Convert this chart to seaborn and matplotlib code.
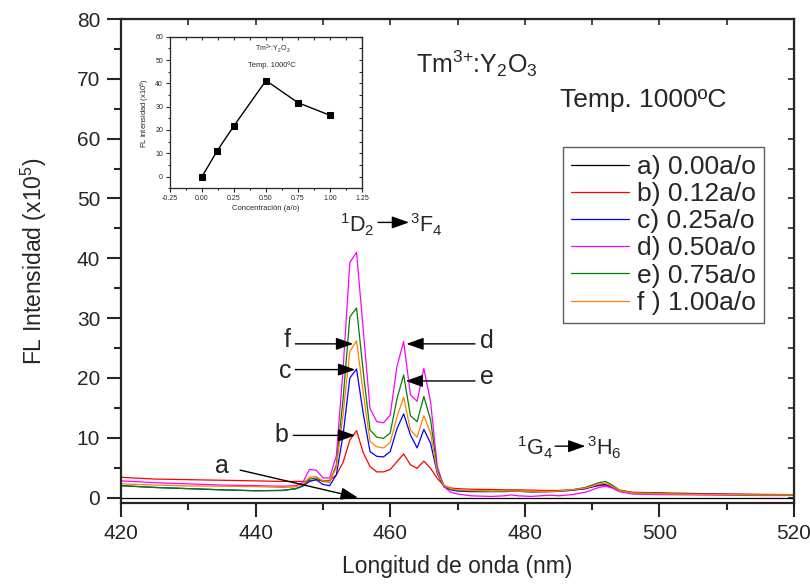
import pandas as pd
import matplotlib.pyplot as plt
import seaborn as sns
from matplotlib.ticker import MultipleLocator, FormatStrFormatter

# longitudes de onda (nm) donde se leyeron los espectros
nm = [420, 425, 430, 435, 440, 444, 446, 447, 448, 449, 450, 451, 452, 453, 454,
      455, 456, 457, 458, 459, 460, 461, 462, 463, 464, 465, 466, 467, 468, 469,
      470, 472, 475, 477, 478, 479, 481, 483, 484, 485, 487, 489, 490, 491, 492,
      493, 494, 496, 500, 505, 510, 515, 520]

nm_a = [420, 520]
fl_a = [0.0, 0.0]

fl_b = [3.4, 3.1, 3.0, 2.9, 2.8, 2.7, 2.7, 2.7, 2.8, 3.0, 2.8, 2.9, 3.8, 5.9, 9.6,
        11.2, 7.5, 5.2, 4.3, 4.3, 4.7, 6.0, 7.3, 5.5, 4.9, 6.1, 4.9, 3.2, 2.0, 1.6,
        1.5, 1.4, 1.35, 1.3, 1.3, 1.3, 1.25, 1.2, 1.2, 1.2, 1.3, 1.5, 1.8, 2.0, 2.1,
        1.7, 1.2, 0.9, 0.8, 0.7, 0.6, 0.55, 0.5]

fl_c = [2.0, 1.7, 1.5, 1.3, 1.15, 1.2, 1.5, 1.9, 2.7, 3.0, 2.2, 2.0, 3.8, 10.5, 20.0,
        21.5, 14.0, 7.7, 6.9, 6.8, 7.7, 11.5, 14.0, 10.5, 8.3, 11.4, 9.1, 4.0, 1.8, 1.3,
        1.1, 1.0, 1.0, 1.0, 1.05, 1.05, 0.95, 1.0, 1.0, 1.05, 1.2, 1.5, 1.8, 2.1, 2.2,
        1.8, 1.2, 0.8, 0.7, 0.6, 0.55, 0.5, 0.5]

fl_d = [2.8, 2.5, 2.3, 2.1, 2.0, 1.9, 2.0, 2.5, 4.7, 4.6, 3.3, 3.3, 7.0, 21.5, 39.3,
        41.0, 28.0, 14.9, 12.7, 12.5, 13.8, 21.9, 26.1, 17.2, 16.1, 21.6, 16.0, 5.2, 1.8, 0.9,
        0.6, 0.3, 0.2, 0.3, 0.45, 0.3, 0.2, 0.35, 0.4, 0.3, 0.5, 0.9, 1.3, 1.7, 1.9,
        1.6, 1.0, 0.6, 0.5, 0.45, 0.4, 0.35, 0.35]

fl_e = [2.0, 1.7, 1.5, 1.3, 1.15, 1.2, 1.5, 2.0, 3.1, 3.3, 2.7, 2.6, 5.5, 16.5, 30.2,
        31.7, 21.0, 11.3, 10.1, 9.9, 10.8, 16.5, 20.5, 13.7, 12.7, 16.9, 13.0, 4.5, 2.0, 1.4,
        1.2, 1.1, 1.05, 1.1, 1.1, 1.05, 1.0, 1.0, 1.05, 1.1, 1.3, 1.7, 2.1, 2.5, 2.7,
        2.1, 1.3, 0.85, 0.7, 0.6, 0.5, 0.45, 0.5]

fl_f = [2.3, 2.1, 1.95, 1.9, 1.85, 1.7, 1.8, 2.2, 3.4, 3.5, 2.8, 2.7, 5.0, 14.0, 24.4,
        26.2, 17.5, 9.4, 8.5, 8.3, 9.2, 13.5, 16.8, 11.3, 10.1, 13.7, 10.8, 4.2, 2.0, 1.5,
        1.3, 1.2, 1.1, 1.1, 1.1, 1.1, 1.05, 1.05, 1.05, 1.1, 1.3, 1.6, 1.9, 2.3, 2.4,
        1.9, 1.2, 0.8, 0.65, 0.55, 0.5, 0.45, 0.45]

etiquetas = ["a) 0.00a/o", "b) 0.12a/o", "c) 0.25a/o", "d) 0.50a/o", "e) 0.75a/o", "f ) 1.00a/o"]
colores = ["#000000", "#ff0000", "#0000ff", "#ff00ff", "#008000", "#ff8000"]

# inserto: intensidad del pico vs concentracion
conc = [0.00, 0.12, 0.25, 0.50, 0.75, 1.00]
pico = [0.0, 11.2, 21.8, 41.2, 31.7, 26.3]

sns.set_style("ticks")
plt.rcParams["font.family"] = ["Liberation Sans", "DejaVu Sans"]
plt.rcParams["mathtext.fontset"] = "custom"
plt.rcParams["mathtext.rm"] = "Liberation Sans"
plt.rcParams["mathtext.it"] = "Liberation Sans:italic"
plt.rcParams["mathtext.default"] = "regular"

frames = [pd.DataFrame({"nm": nm_a, "fl": fl_a, "serie": etiquetas[0]})]
for lab, ys in zip(etiquetas[1:], [fl_b, fl_c, fl_d, fl_e, fl_f]):
    frames.append(pd.DataFrame({"nm": nm, "fl": ys, "serie": lab}))
df = pd.concat(frames, ignore_index=True)

fig = plt.figure(figsize=(8.1, 5.85), dpi=100)
ax = fig.add_axes([121 / 810, 1 - 503 / 585, 673 / 810, 484 / 585])

sns.lineplot(data=df, x="nm", y="fl", hue="serie", hue_order=etiquetas,
             palette=dict(zip(etiquetas, colores)), sort=False, estimator=None,
             linewidth=0.9, ax=ax)

ax.set_xlim(420, 520)
ax.set_ylim(-0.9, 80)
ax.xaxis.set_major_locator(MultipleLocator(20))
ax.xaxis.set_minor_locator(MultipleLocator(10))
ax.yaxis.set_major_locator(MultipleLocator(10))
ax.yaxis.set_minor_locator(MultipleLocator(5))
ax.tick_params(which="major", direction="out", length=10, width=1.5, labelsize=15, pad=5)
ax.tick_params(which="minor", direction="out", length=5, width=1.5)
for s in ax.spines.values():
    s.set_linewidth(1.6)

top = ax.secondary_xaxis("top")
top.xaxis.set_major_locator(MultipleLocator(10))
top.tick_params(direction="in", length=4, width=1.2, labeltop=False)
right = ax.secondary_yaxis("right")
right.yaxis.set_major_locator(MultipleLocator(5))
right.tick_params(direction="in", length=4, width=1.2, labelright=False)

ax.set_xlabel("Longitud de onda (nm)", fontsize=16.5)
ax.set_ylabel("FL Intensidad (x10$^5$)", fontsize=16.5)
ax.xaxis.set_label_coords(0.5, -0.108)
ax.yaxis.set_label_coords(-0.107, 0.5)

sns.move_legend(ax, "upper left", bbox_to_anchor=(0.657, 0.7355), title=None,
                frameon=True, fontsize=19, handlelength=2.2, handletextpad=0.3,
                borderpad=0.3, labelspacing=0.12, borderaxespad=0, fancybox=False,
                edgecolor="#333333")
ax.get_legend().get_frame().set_linewidth(1.0)

flecha = dict(arrowstyle="-|>,head_length=0.7,head_width=0.25", color="black",
              lw=1.0, mutation_scale=15, shrinkA=0, shrinkB=0)

# etiquetas de las curvas
letras = [("a", 435.0, 5.3, (437.7, 4.6), (455.2, 0.0)),
          ("b", 443.9, 10.4, (445.6, 10.4), (454.8, 10.4)),
          ("c", 444.4, 21.1, (445.9, 21.4), (454.8, 21.4)),
          ("f", 444.7, 26.4, (445.9, 25.7), (454.5, 25.7)),
          ("d", 474.4, 26.1, (472.6, 25.7), (462.4, 25.7)),
          ("e", 474.4, 20.2, (472.6, 19.5), (462.3, 19.5))]
for txt, tx, ty, cola, punta in letras:
    ax.text(tx, ty, txt, fontsize=18, ha="center", va="center")
    ax.annotate("", xy=punta, xytext=cola, arrowprops=flecha)

# transiciones
ax.text(457.7, 45.6, "$^1$D$_2$", fontsize=15.5, ha="right", va="center")
ax.annotate("", xy=(462.8, 46.0), xytext=(458.2, 46.0), arrowprops=flecha)
ax.text(462.9, 45.6, "$^3$F$_4$", fontsize=15.5, ha="left", va="center")
ax.text(484.2, 8.3, "$^1$G$_4$", fontsize=15.5, ha="right", va="center")
ax.annotate("", xy=(489.0, 8.6), xytext=(484.5, 8.6), arrowprops=flecha)
ax.text(489.2, 8.3, "$^3$H$_6$", fontsize=15.5, ha="left", va="center")

ax.text(463.9, 72.5, "Tm$^{3{+}}$:Y$_2$O$_3$", fontsize=18, ha="left", va="center")
ax.text(485.2, 66.5, "Temp. 1000ºC", fontsize=19, ha="left", va="center")

# inserto
axi = fig.add_axes([170 / 810, 1 - 188.3 / 585, 192 / 810, 151.6 / 585])
sns.lineplot(x=conc, y=pico, color="black", marker="s", markersize=4,
             markeredgecolor="black", linewidth=1.0, ax=axi)
axi.set_xlim(-0.25, 1.25)
axi.set_ylim(-5, 60)
axi.xaxis.set_major_locator(MultipleLocator(0.25))
axi.xaxis.set_minor_locator(MultipleLocator(0.125))
axi.xaxis.set_major_formatter(FormatStrFormatter("%.2f"))
axi.yaxis.set_major_locator(MultipleLocator(10))
axi.yaxis.set_minor_locator(MultipleLocator(5))
axi.tick_params(which="major", direction="out", length=3, width=0.8, labelsize=5, pad=2)
axi.tick_params(which="minor", direction="out", length=1.5, width=0.8)
for s in axi.spines.values():
    s.set_linewidth(0.9)
topi = axi.secondary_xaxis("top")
topi.xaxis.set_major_locator(MultipleLocator(0.125))
topi.tick_params(direction="in", length=2, width=0.8, labeltop=False)
righti = axi.secondary_yaxis("right")
righti.yaxis.set_major_locator(MultipleLocator(5))
righti.tick_params(direction="in", length=2, width=0.8, labelright=False)
axi.set_xlabel("Concentración (a/o)", fontsize=5.5, labelpad=2)
axi.set_ylabel("FL intensidad (x10$^5$)", fontsize=5.5, labelpad=2)
axi.text(0.555, 54.9, "Tm$^{3{+}}$:Y$_2$O$_3$", fontsize=5, ha="center", va="center")
axi.text(0.545, 47.7, "Temp. 1000ºC", fontsize=5.5, ha="center", va="center")

fig.savefig("out.png", dpi=100)
